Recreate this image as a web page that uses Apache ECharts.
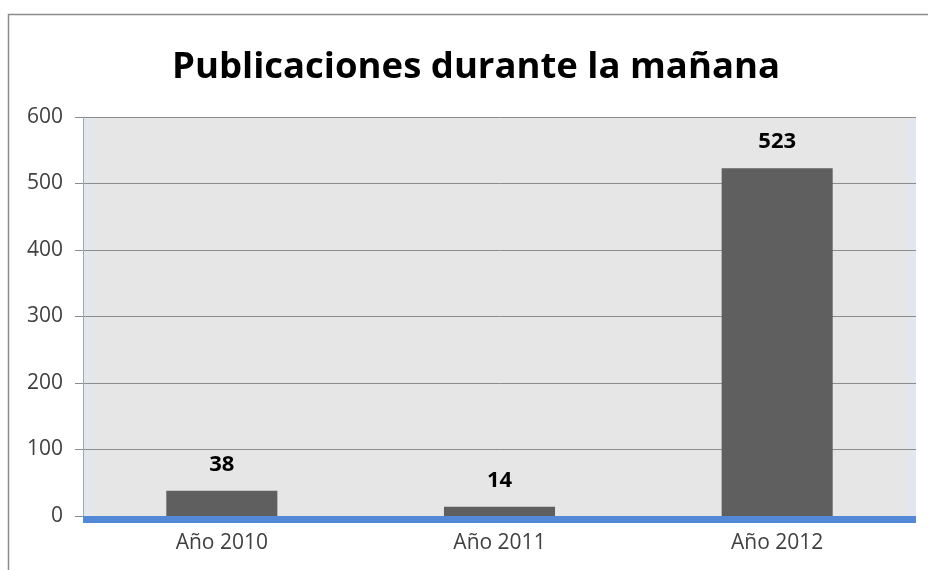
<!DOCTYPE html>
<html>
<head>
<meta charset="utf-8">
<script src="https://cdn.jsdelivr.net/npm/echarts@6/dist/echarts.min.js"></script>
<style>
  html, body { margin: 0; padding: 0; background: #ffffff; }
  #chart { width: 928px; height: 570px; }
</style>
</head>
<body>
<div id="chart"></div>
<script>
// Morning publications per year
const categories = ['Año 2010', 'Año 2011', 'Año 2012'];
const publicaciones = [38, 14, 523];
const yTicks = [0, 100, 200, 300, 400, 500, 600];

const FONT = '"Open Sans", "Noto Sans", sans-serif';

const chart = echarts.init(document.getElementById('chart'), null, { renderer: 'canvas' });

chart.setOption({
  backgroundColor: '#ffffff',
  animation: false,
  title: {
    text: 'Publicaciones durante la mañana',
    left: 167,
    top: 44,
    textStyle: { fontFamily: FONT, fontWeight: 'bold', fontSize: 36.5, color: '#000000' }
  },
  graphic: [
    {
      // outer chart frame
      type: 'rect',
      shape: { x: 8.5, y: 14.5, width: 940, height: 600 },
      style: { fill: null, stroke: '#8c8c8c', lineWidth: 1.5 },
      silent: true,
      z: -1
    }
  ],
  grid: {
    left: 83, right: 12, top: 117, bottom: 54,
    show: true,
    backgroundColor: {
      type: 'linear', x: 0, y: 0, x2: 1, y2: 0,
      colorStops: [
        { offset: 0, color: '#e3e8ee' },
        { offset: 0.02, color: '#e6e6e6' },
        { offset: 0.985, color: '#e6e6e6' },
        { offset: 1, color: '#dfe8f3' }
      ]
    },
    borderWidth: 0
  },
  xAxis: {
    type: 'category',
    data: categories,
    offset: 3.5,
    axisLine: {
      show: true,
      onZero: false,
      lineStyle: { color: '#5289d6', width: 7, cap: 'butt' }
    },
    axisTick: { show: false },
    axisLabel: {
      fontFamily: FONT, fontSize: 21, color: '#404040', margin: 13
    }
  },
  yAxis: {
    type: 'value',
    min: yTicks[0],
    max: yTicks[yTicks.length - 1],
    interval: 100,
    axisLine: { show: true, lineStyle: { color: '#9fa9b4', width: 1 } },
    axisTick: { show: true, length: 8, lineStyle: { color: '#8c8c8c' } },
    splitLine: { show: true, lineStyle: { color: '#8c8c8c', width: 1 } },
    axisLabel: {
      fontFamily: FONT, fontSize: 21, color: '#404040', margin: 20
    }
  },
  series: [
    {
      type: 'bar',
      data: publicaciones,
      barWidth: '40%',
      itemStyle: { color: '#5f5f5f' },
      label: {
        show: true,
        position: 'top',
        distance: 15,
        fontFamily: FONT,
        fontWeight: 'bold',
        fontSize: 22,
        color: '#000000'
      }
    }
  ]
});
</script>
</body>
</html>
